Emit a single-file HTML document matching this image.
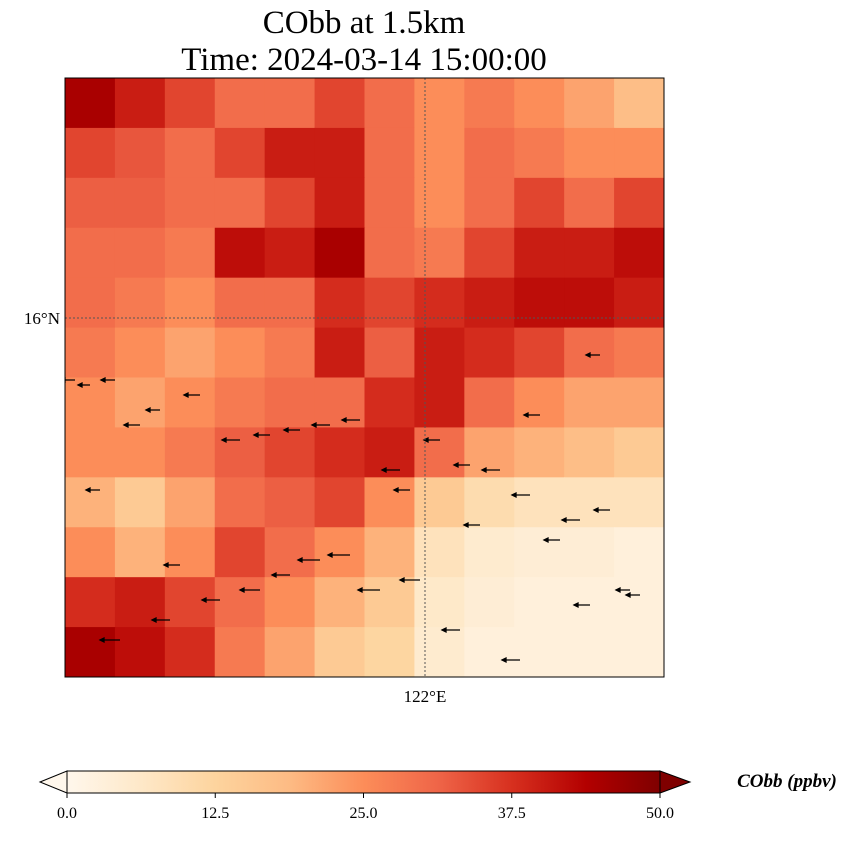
<!DOCTYPE html>
<html><head><meta charset="utf-8">
<style>
body{margin:0;background:#fff;width:854px;height:836px;overflow:hidden;font-family:"Liberation Serif",serif;}
</style></head>
<body>
<svg id="fig" width="854" height="836" xmlns="http://www.w3.org/2000/svg">
<defs>
<linearGradient id="cg" x1="0" x2="1" y1="0" y2="0">
<stop offset="0" stop-color="#fff7ec"/><stop offset="0.125" stop-color="#fee8c8"/><stop offset="0.25" stop-color="#fdd49e"/><stop offset="0.375" stop-color="#fdbb84"/><stop offset="0.5" stop-color="#fc8d59"/><stop offset="0.625" stop-color="#ef6548"/><stop offset="0.75" stop-color="#d7301f"/><stop offset="0.875" stop-color="#b30000"/><stop offset="1" stop-color="#7f0000"/>
</linearGradient>
<clipPath id="mc"><rect x="65" y="78" width="599" height="599"/></clipPath>
</defs>
<text x="364" y="33" font-size="33" text-anchor="middle">CObb at 1.5km</text>
<text x="364" y="70" font-size="33" text-anchor="middle">Time: 2024-03-14 15:00:00</text>
<g id="cells" clip-path="url(#mc)"></g>
<g id="arrows" clip-path="url(#mc)"></g>
<line x1="425" y1="78" x2="425" y2="677" stroke="#555" stroke-dasharray="2,2" stroke-width="1"/>
<line x1="65" y1="318" x2="664" y2="318" stroke="#555" stroke-dasharray="2,2" stroke-width="1"/>
<rect x="65" y="78" width="599" height="599" fill="none" stroke="#000" stroke-width="1"/>
<text x="60" y="324" font-size="17" text-anchor="end">16°N</text>
<text x="425" y="702" font-size="17" text-anchor="middle">122°E</text>
<polygon points="40,782 67,771 67,793" fill="#fff7ec" stroke="#000" stroke-width="1"/>
<polygon points="660,771 690,782 660,793" fill="#7f0000" stroke="#000" stroke-width="1"/>
<rect x="67" y="771" width="593" height="22" fill="url(#cg)" stroke="#000" stroke-width="1"/>
<g id="cticks"></g>
<text x="787" y="787" font-size="19" font-weight="bold" font-style="italic" text-anchor="middle">CObb (ppbv)</text>
</svg>
<script>
const gridRows = [
[45,40,35,30,30,35,30,25,28,25,22,18],
[35,33,30,35,40,40,30,25,30,28,25,25],
[32,32,30,30,35,40,30,25,30,35,30,35],
[30,30,28,42,40,45,30,28,35,40,40,42],
[30,28,25,30,30,38,35,38,40,42,42,40],
[28,25,22,25,28,40,32,40,38,35,30,28],
[25,22,25,28,30,30,38,40,30,25,22,22],
[25,25,28,32,35,38,40,30,22,20,18,15],
[20,15,22,30,32,35,25,15,10,8,8,8],
[25,20,25,35,30,25,20,8,5,4,4,3],
[38,40,35,30,25,20,15,6,4,3,3,3],
[45,42,38,28,22,15,12,5,3,3,3,3]
];
const tickValues = [0,12.5,25,37.5,50];
const tickLabels = ["0.0","12.5","25.0","37.5","50.0"];
const arrowX = [75,90,115,140,160,200,240,270,300,330,360,400,440,470,500,540,580,610,640,100,180,220,260,350,380,420,460,520,560,600,120,170,290,320,410,480,530,590,630];
const arrowY = [380,385,380,425,410,395,440,435,430,425,420,470,440,465,470,415,520,510,595,490,565,600,590,555,590,580,630,660,540,355,640,620,575,560,490,525,495,605,590];
const arrowU = [-1,-1,-1,-1,-1,-1,-1,-1,-1,-1,-1,-1,-1,-1,-1,-1,-1,-1,-1,-1,-1,-1,-1,-1,-1,-1,-1,-1,-1,-1,-1,-1,-1,-1,-1,-1,-1,-1,-1];
const arrowLen = [14,12,14,16,14,16,18,16,16,18,18,18,16,16,18,16,18,16,14,14,16,18,20,22,22,20,18,18,16,14,20,18,18,22,16,16,18,16,14];

const cmap=["#fff7ec","#fee8c8","#fdd49e","#fdbb84","#fc8d59","#ef6548","#d7301f","#b30000","#7f0000"];
function hex(c){return [1,3,5].map(i=>parseInt(c.substr(i,2),16));}
function color(v){let t=Math.max(0,Math.min(1,v/50))*8;let i=Math.min(7,Math.floor(t));let f=t-i;
let a=hex(cmap[i]),b=hex(cmap[i+1]);return "rgb("+a.map((x,k)=>Math.round(x+(b[k]-x)*f)).join(",")+")";}
const x0=65,y0=78,W=599,H=599;
const ns="http://www.w3.org/2000/svg";
const nr=gridRows.length,nc=gridRows[0].length,cw=W/nc,ch=H/nr;
const xScale=c=>x0+c*cw, yScale=r=>y0+r*ch;
const cells=document.getElementById('cells');
gridRows.forEach((row,r)=>row.forEach((v,c)=>{
 const e=document.createElementNS(ns,'rect');
 e.setAttribute('x',xScale(c));e.setAttribute('y',yScale(r));
 e.setAttribute('width',cw+0.6);e.setAttribute('height',ch+0.6);
 e.setAttribute('fill',color(v));
 
 
 cells.appendChild(e);
}));
const ag=document.getElementById('arrows');
arrowX.forEach((x,i)=>{
 const y=arrowY[i],L=arrowLen[i]*arrowU[i];
 const e=document.createElementNS(ns,'path');
 const hx=x+L;
 e.setAttribute('d',`M${x},${y}L${hx},${y}M${hx},${y}l4,-2v4z`);
 e.setAttribute('stroke','#000');e.setAttribute('stroke-width','1.3');e.setAttribute('fill','#000');
 
 
 ag.appendChild(e);
});
const cb=document.getElementById('cticks');
const cbScale=v=>67+v/50*593;
tickValues.forEach((v,i)=>{
 const l=document.createElementNS(ns,'line');
 l.setAttribute('x1',cbScale(v));l.setAttribute('x2',cbScale(v));l.setAttribute('y1',793);l.setAttribute('y2',798);l.setAttribute('stroke','#000');
 
 
 cb.appendChild(l);
 const t=document.createElementNS(ns,'text');
 t.setAttribute('x',cbScale(v));t.setAttribute('y',818);t.setAttribute('font-size','16');t.setAttribute('text-anchor','middle');
 t.textContent=tickLabels[i];
 
 
 cb.appendChild(t);
});
</script>
</body></html>
